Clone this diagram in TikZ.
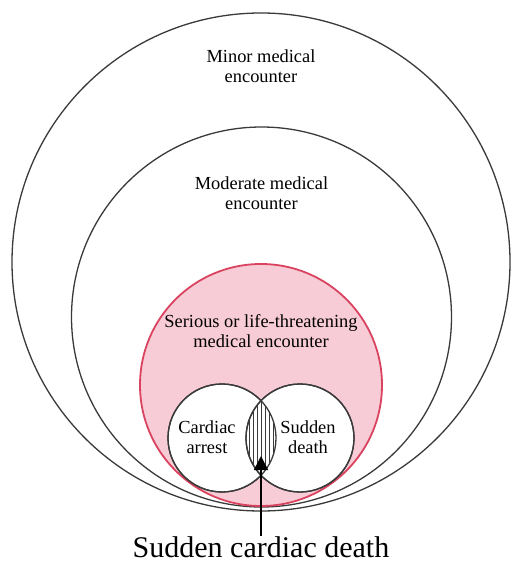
\documentclass[tikz,border=0pt]{standalone}
\usepackage{fontspec}
\setmainfont{Liberation Serif}
\usetikzlibrary{arrows.meta,positioning,calc}
\definecolor{ink}{HTML}{3A3A3A}
\definecolor{crimson}{HTML}{D9435F}
\definecolor{lightpink}{HTML}{F7CCD6}

\begin{document}
\begin{tikzpicture}[x=1pt,y=1pt,
  font=\fontsize{18.4}{20}\selectfont,
  ring/.style={circle,draw=ink,line width=1.3pt,fill=white,inner sep=0pt},
  lbl/.style={align=center,inner sep=0pt},
  hatch/.style={line width=0.8pt,draw=ink},
  arr/.style={-{Triangle[length=14pt,width=14pt]},line width=1.5pt,draw=black}
]
\useasboundingbox (0,0) rectangle (511,-572);
% nested encounter levels
\node[ring,minimum size=498pt] (minor) at (261,-262) {};
\node[ring,minimum size=380pt] (moderate) at (261.5,-317) {};
\node[ring,draw=crimson,line width=1.8pt,fill=lightpink,minimum size=242pt] (serious) at (261,-385) {};
\node[lbl,below=37.4pt of minor.north] (minorlbl) {Minor medical\\encounter};
\node[lbl,below=50.4pt of moderate.north] (moderatelbl) {Moderate medical\\encounter};
\node[lbl,below=51.4pt of serious.north] (seriouslbl) {Serious or life-threatening\\medical encounter};
% overlap of arrest and death
\node[ring,minimum size=108pt] (arrest) at (222,-438) {};
\node[ring,minimum size=108pt] (death) at (300,-438) {};
\begin{scope}
  \clip (arrest.center) circle (54);
  \clip (death.center) circle (54);
  \foreach \x in {249,253,...,273} \draw[hatch] (\x,-380) -- (\x,-500);
\end{scope}
\draw[draw=ink,line width=1.3pt] (arrest.center) circle (54);
\draw[draw=ink,line width=1.3pt] (death.center) circle (54);
\node[lbl] (arrestlbl) at (207,-437) {Cardiac\\arrest};
\node[lbl] (deathlbl) at (308,-437) {Sudden\\death};
\node[font=\fontsize{30}{34}\selectfont,anchor=base,inner sep=0pt] (sdc) at (261,-557) {Sudden cardiac death};
\coordinate (tip) at (261,-456);
\draw[arr] (sdc.north) -- (tip);
\end{tikzpicture}
\end{document}
